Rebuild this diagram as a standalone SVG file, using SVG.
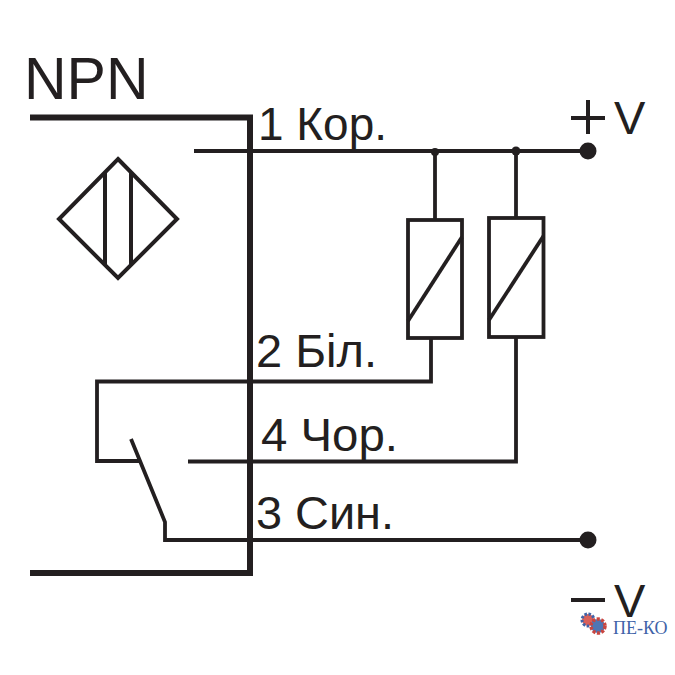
<svg xmlns="http://www.w3.org/2000/svg" width="675" height="675" viewBox="0 0 675 675">
<style>
.w{fill:none;stroke:#231f20;stroke-width:3.8}
.b{fill:none;stroke:#231f20;stroke-width:6}
.d{fill:#231f20}
.t{font-family:"Liberation Sans",Arial,sans-serif;fill:#231f20;font-size:47px}
</style>
<rect width="675" height="675" fill="#fff"/>
<g id="connectors">
<path class="b" d="M30 117.500H250V573H30"/>
<path class="w" d="M194 151H588"/>
<path class="w" d="M435 151V219"/>
<path class="w" d="M516 151V218"/>
<path class="w" d="M431 338V381.500H97V461H140"/>
<path class="w" d="M516 337V461.500H188"/>
<path class="w" d="M131 439L165 522V540H588"/>
<circle class="d" cx="435" cy="152" r="4"/>
<circle class="d" cx="516" cy="151" r="4.500"/>
</g>
<g id="sensor">
<path class="w" style="stroke-width:4" d="M118 159L177 219L118 278L59 219Z"/>
<path class="w" style="stroke-width:4" d="M105 172V266M131 172V266"/>
</g>
<g id="load1">
<rect class="w" x="408" y="220" width="54" height="118"/>
<path class="w" d="M408 321L462 237"/>
</g>
<g id="load2">
<rect class="w" x="489" y="218" width="54.500" height="119"/>
<path class="w" d="M489 320L543.500 236"/>
</g>
<g id="terminal-plus"><circle class="d" cx="588" cy="151" r="8.500"/>
<path class="w" style="stroke-width:4" d="M571 118H605M588 100V134"/><text class="t" x="614" y="134">V</text></g>
<g id="terminal-minus"><circle class="d" cx="588" cy="540" r="8.500"/>
<path class="w" style="stroke-width:4" d="M571 600H605"/><text class="t" x="614" y="617">V</text></g>
<g id="labels">
<text class="t" x="258" y="140" textLength="129" lengthAdjust="spacingAndGlyphs">1 Кор.</text>
<text class="t" x="256" y="367" textLength="121" lengthAdjust="spacingAndGlyphs">2 Біл.</text>
<text class="t" x="261" y="451" textLength="137" lengthAdjust="spacingAndGlyphs">4 Чор.</text>
<text class="t" x="256" y="529" textLength="138" lengthAdjust="spacingAndGlyphs">3 Син.</text>
<text class="t" x="24" y="99" style="font-size:59px">NPN</text>
</g>
<g id="logo">
<circle cx="588" cy="620" r="6" fill="#d9605a" stroke="#3f63a8" stroke-width="3" stroke-dasharray="2.500 1.500"/>
<circle cx="598" cy="626" r="7" fill="#4d76b5" stroke="#c9453f" stroke-width="3.500" stroke-dasharray="3 1.500"/>
<text x="613" y="634" style="font-family:'Liberation Serif',serif;font-size:18px;fill:#3f63a8">ПЕ-КО</text>
</g>
</svg>
